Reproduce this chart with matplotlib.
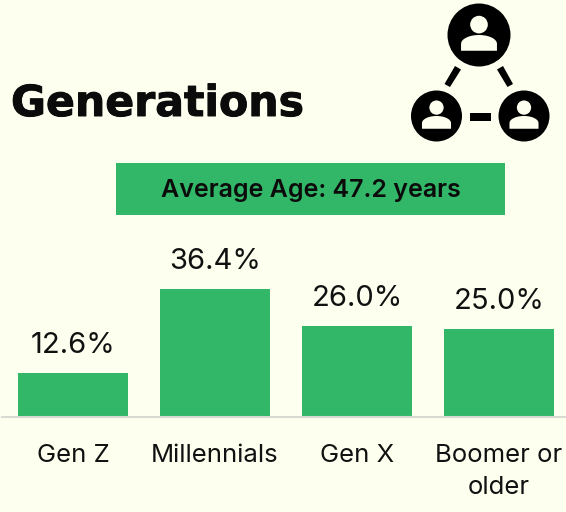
import numpy as np
import matplotlib
matplotlib.use("Agg")
import matplotlib.pyplot as plt
import matplotlib.patheffects as pe
from matplotlib.patches import Circle, Rectangle, Polygon

# Dados do gráfico
categories = ["Gen Z", "Millennials", "Gen X", "Boomer or\nolder"]
shares = [12.6, 36.4, 26.0, 25.0]
share_labels = ["12.6%", "36.4%", "26.0%", "25.0%"]
title = "Generations"
banner = "Average Age: 47.2 years"

BG = "#FDFFEF"
GREEN = "#32B768"
W, H = 566, 512

fig = plt.figure(figsize=(W / 100, H / 100), dpi=100, facecolor=BG)


# Função para criar um eixo a partir de coordenadas em pixels
def px_axes(left, top, right, bottom):
    return fig.add_axes([left / W, 1 - bottom / H, (right - left) / W, (bottom - top) / H])


# Camada de fundo em pixels para o título, a faixa e o ícone
bg = px_axes(0, 0, W, H)
bg.set_xlim(0, W)
bg.set_ylim(H, 0)
bg.axis("off")

bg.text(11, 104, title, fontsize=30.7, family="DejaVu Sans", fontweight="bold",
        color="#0B0B0B", va="center", ha="left",
        path_effects=[pe.withStroke(linewidth=0.7, foreground="#0B0B0B")])

bg.add_patch(Rectangle((116, 163), 389, 52, color=GREEN, lw=0))
bg.text(310.5, 190, banner, fontsize=18.0, family="Inter", fontweight="semibold",
        color="#0B0B0B", va="center", ha="center")


# Desenha uma pessoa dentro de um círculo preto
def person(cx, cy, r):
    bg.add_patch(Circle((cx, cy), r, color="black", lw=0))
    bg.add_patch(Circle((cx, cy - 0.33 * r), 0.28 * r, color=BG, lw=0))
    # Ombros: topo em forma de cúpula com a base reta
    t = np.linspace(np.pi, 2 * np.pi, 40)
    xs = cx + 0.57 * r * np.cos(t)
    ys = cy + 0.28 * r + 0.28 * r * np.sin(t)
    pts = list(zip(xs, ys)) + [(cx + 0.57 * r, cy + 0.5 * r), (cx - 0.57 * r, cy + 0.5 * r)]
    bg.add_patch(Polygon(pts, color=BG, lw=0))


person(479, 35, 31.5)
person(436.5, 116, 25.5)
person(524, 116, 25.5)

# Traços que ligam os círculos
bg.add_patch(Polygon([(455, 66), (461, 69.5), (450, 87), (444.5, 84)], color="black", lw=0))
bg.add_patch(Polygon([(497, 69.5), (503, 66), (513, 84), (507.5, 87)], color="black", lw=0))
bg.add_patch(Rectangle((469.5, 113), 21, 8, color="black", lw=0))

# Gráfico de barras
ax = px_axes(2, 0, 566, 416.5)
ax.patch.set_alpha(0)
ax.bar(range(len(categories)), shares, width=110 / 142, color=GREEN)
ax.set_xlim((2 - 73) / 142, (566 - 73) / 142)
ax.set_ylim(0, 416.5 / 3.49)
for i, label in enumerate(share_labels):
    ax.annotate(label, (i, shares[i]), xytext=(0, 14), textcoords="offset pixels",
                ha="center", va="bottom", fontsize=21, family="Inter", color="#111111")

ax.set_xticks(range(len(categories)))
ax.set_xticklabels(categories, fontsize=18.5, family="Inter", color="#111111", linespacing=1.5)
ax.tick_params(axis="x", length=0, pad=19.5)
ax.set_yticks([])
for side in ["top", "left", "right"]:
    ax.spines[side].set_visible(False)
ax.spines["bottom"].set_color("#D9DAD2")
ax.spines["bottom"].set_linewidth(1.5)

fig.savefig("out.png", dpi=100, facecolor=BG)
